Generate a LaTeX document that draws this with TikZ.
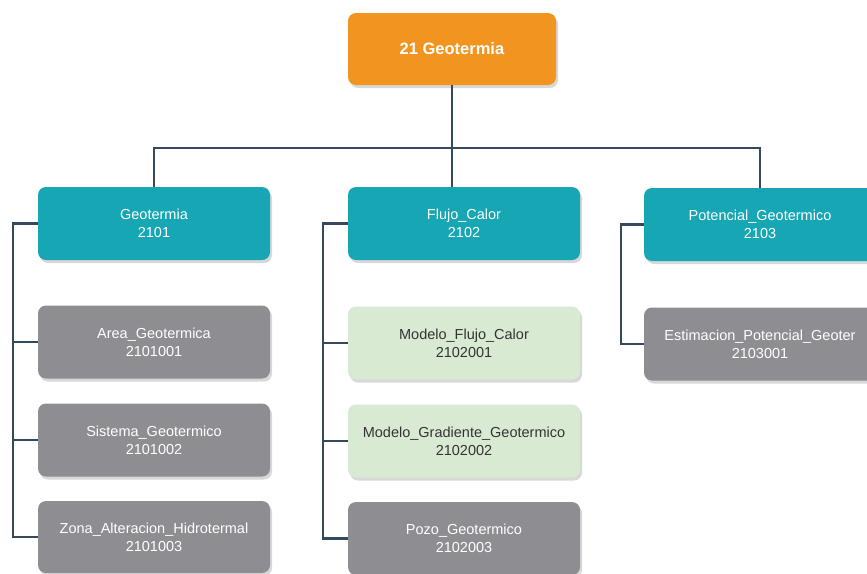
\documentclass[tikz,border=0pt]{standalone}
\usepackage{fontspec}
\setmainfont{Liberation Sans}
\usetikzlibrary{shadows}
\definecolor{cOrange}{HTML}{F19420}
\definecolor{cTeal}{HTML}{17A6B4}
\definecolor{cGray}{HTML}{8E8D91}
\definecolor{cGreen}{HTML}{D9EAD3}
\definecolor{cLine}{HTML}{34495E}
\definecolor{cDark}{HTML}{333333}
\begin{document}
\begin{tikzpicture}[x=1pt,y=-1pt,
  box/.style={rounded corners=8pt, align=center, inner sep=0pt,
    minimum width=232pt, minimum height=73pt,
    font=\fontsize{14.5}{18}\selectfont,
    drop shadow={shadow xshift=2pt, shadow yshift=-3pt, fill=black!25, opacity=0.6}},
  rootbox/.style={box, fill=cOrange, text=white, minimum width=208pt, minimum height=72pt,
    font=\fontsize{16.5}{19}\selectfont\bfseries},
  lone/.style={box, fill=cTeal, text=white},
  grayleaf/.style={box, fill=cGray, text=white},
  greenleaf/.style={box, fill=cGreen, text=cDark},
  conn/.style={draw=cLine, line width=2.2pt}]
\useasboundingbox (0,0) rectangle (867,573);
\clip (0,0) rectangle (867,573);
\fill[white] (0,0) rectangle (867,573);

\node[rootbox] (root) at (452,49) {21 Geotermia};

\node[lone] (geo) at (154,223.5) {Geotermia\\2101};
\node[lone] (flujo) at (464,223.5) {Flujo\_Calor\\2102};
\node[lone] (pot) at (760,224.5) {Potencial\_Geotermico\\2103};

\node[grayleaf] (area) at (154,342) {Area\_Geotermica\\2101001};
\node[grayleaf] (sist) at (154,440) {Sistema\_Geotermico\\2101002};
\node[grayleaf, minimum height=72pt] (zona) at (154,537) {Zona\_Alteracion\_Hidrotermal\\2101003};

\node[greenleaf] (mflujo) at (464,343) {Modelo\_Flujo\_Calor\\2102001};
\node[greenleaf] (mgrad) at (464,441) {Modelo\_Gradiente\_Geotermico\\2102002};
\node[grayleaf] (pozo) at (464,538.5) {Pozo\_Geotermico\\2102003};

\node[grayleaf] (estim) at (760,344) {Estimacion\_Potencial\_Geoter\\2103001};

\coordinate (bus) at (452,148);
\coordinate (tl) at (13,0);
\coordinate (tm) at (323,0);
\coordinate (tr) at (621,0);

\draw[conn] (root.south) -- (root.south |- flujo.north);
\draw[conn] (geo.north) |- (bus) -| (pot.north);

\draw[conn] (geo.west) -- (geo.west -| tl) |- (zona.west);
\draw[conn] (tl |- area.west) -- (area.west);
\draw[conn] (tl |- sist.west) -- (sist.west);

\draw[conn] (flujo.west) -- (flujo.west -| tm) |- (pozo.west);
\draw[conn] (tm |- mflujo.west) -- (mflujo.west);
\draw[conn] (tm |- mgrad.west) -- (mgrad.west);

\draw[conn] (pot.west) -- (pot.west -| tr) |- (estim.west);
\end{tikzpicture}
\end{document}
